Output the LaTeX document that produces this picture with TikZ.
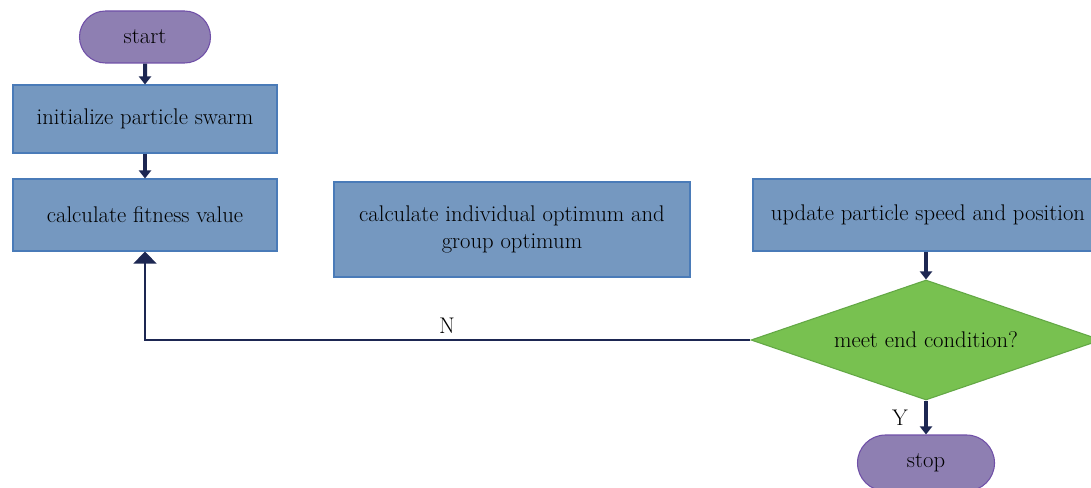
\documentclass[tikz,border=0pt]{standalone}
\usetikzlibrary{shapes.geometric,shapes.misc,arrows.meta}
\definecolor{boxfill}{HTML}{7598C0}
\definecolor{boxline}{HTML}{4A7BB8}
\definecolor{termfill}{HTML}{8E7FB2}
\definecolor{termline}{HTML}{7050A8}
\definecolor{decfill}{HTML}{78C150}
\definecolor{decline}{HTML}{63A845}
\definecolor{arr}{HTML}{1D2752}
\tikzset{
  every node/.style={font=\fontsize{17}{20}\selectfont, text=black},
  procbox/.style={rectangle, draw=boxline, fill=boxfill, line width=0.8pt, inner sep=0pt, align=center},
  term/.style={rounded rectangle, draw=termline, fill=termfill, line width=0.8pt, inner sep=0pt},
  decision/.style={diamond, draw=decline, fill=decfill, line width=0.8pt, inner sep=0pt},
  flow/.style={draw=arr, line width=3pt, -{Triangle[width=9pt,length=6pt]}},
  loop/.style={draw=arr, line width=2pt, -{Triangle[width=17pt,length=9pt]}},
}
\begin{document}
\begin{tikzpicture}[x=0.75pt,y=-0.75pt]
\useasboundingbox (0,0) rectangle (1091,488);
\clip (0,0) rectangle (1091,488);
\fill[white] (0,0) rectangle (1091,488);
\node[term, minimum width=131*0.75pt, minimum height=52*0.75pt] (start) at (145,37) {start};
\node[procbox, minimum width=264*0.75pt, minimum height=68*0.75pt] (init) at (145,119) {initialize particle swarm};
\node[procbox, minimum width=264*0.75pt, minimum height=72*0.75pt] (fit) at (145,215) {calculate fitness value};
\node[procbox, minimum width=356*0.75pt, minimum height=95*0.75pt] (opt) at (512,229.5) {calculate individual optimum and\\group optimum};
\node[procbox, minimum width=350*0.75pt, minimum height=72*0.75pt] (upd) at (928,215) {};
\node (updt) at (928,215) {update particle speed and position};
\node[decision, minimum width=350*0.75pt, minimum height=120*0.75pt] (dec) at (926,340) {};
\node (dect) at (926,340) {meet end condition?};
\node[term, minimum width=137*0.75pt, minimum height=56*0.75pt] (stop) at (926,463) {stop};
\coordinate (corner) at (145,340);
\draw[flow] (start) -- (init);
\draw[flow] (init) -- (fit);
\draw[flow] (upd.south -| dec.north) -- (dec.north);
\draw[flow] (dec.south) -- (stop.north);
\node (ylab) at (900,418) {Y};
\draw[loop] (dec.west) -- (corner) -- (fit.south);
\node (nlab) at (447,326) {N};
\end{tikzpicture}
\end{document}
